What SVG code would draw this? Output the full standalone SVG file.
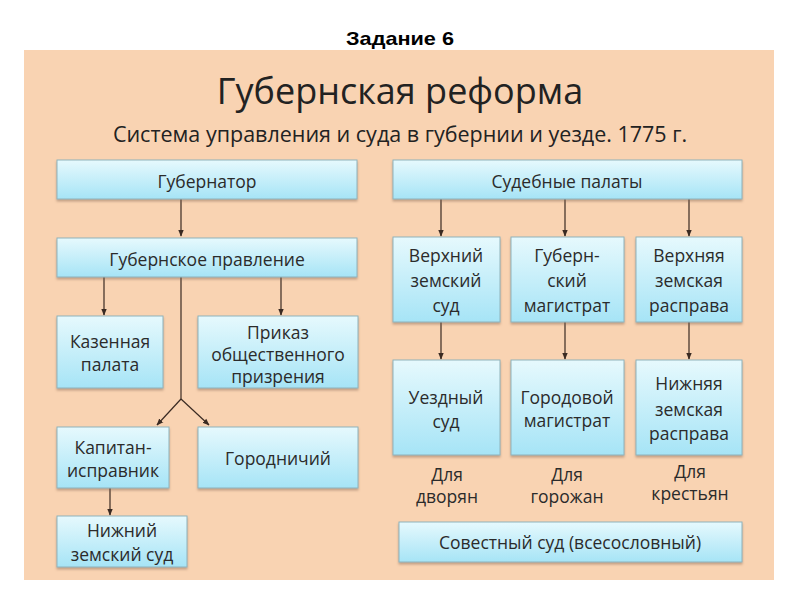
<svg xmlns="http://www.w3.org/2000/svg" width="800" height="600" viewBox="0 0 800 600">
<defs>
<linearGradient id="g" x1="0" y1="0" x2="0" y2="1">
<stop offset="0" stop-color="#e6f9fd"/>
<stop offset="1" stop-color="#a6e4f6"/>
</linearGradient>
<marker id="a" viewBox="0 0 10 10" refX="9" refY="5" markerWidth="7" markerHeight="7" orient="auto" markerUnits="userSpaceOnUse">
<path d="M0,1 L10,5 L0,9 Z" fill="#3a2a22"/>
</marker>
<filter id="s" x="-5%" y="-5%" width="110%" height="120%">
<feDropShadow dx="0" dy="2" stdDeviation="1" flood-color="#806050" flood-opacity="0.45"/>
</filter>
</defs>
<style>
.b{fill:url(#g);stroke:#8fb3bb;stroke-width:1;filter:url(#s)}
.t{font-family:"Open Sans","Noto Sans","DejaVu Sans",sans-serif;font-size:17.5px;fill:#2b2b2b;text-anchor:middle}
.c{stroke:#3a2a22;stroke-width:1.2;fill:none}
.c2{stroke:#3a2a22;stroke-width:1.2;fill:none;marker-end:url(#a)}
</style>
<rect width="800" height="600" fill="#fff"/>
<text x="400" y="45" font-family="'Liberation Sans',Arial,sans-serif" font-weight="bold" font-size="19" text-anchor="middle" fill="#000" textLength="108" lengthAdjust="spacingAndGlyphs">Задание 6</text>
<rect x="24" y="50" width="750" height="530" fill="#f9d3b2"/>
<text x="400" y="104" font-family="'Open Sans','Noto Sans',sans-serif" font-size="36" text-anchor="middle" fill="#222">Губернская реформа</text>
<text x="400" y="142" font-family="'Open Sans','Noto Sans',sans-serif" font-size="21.5" text-anchor="middle" fill="#222">Система управления и суда в губернии и уезде. 1775 г.</text>

<g id="connectors">
<line class="c2" x1="181" y1="199" x2="181" y2="236"/>
<line class="c2" x1="104" y1="277" x2="104" y2="315"/>
<line class="c2" x1="281" y1="277" x2="281" y2="315"/>
<polyline class="c" points="181,277 181,399"/>
<line class="c2" x1="181" y1="399" x2="157" y2="425"/>
<line class="c2" x1="181" y1="399" x2="209" y2="425"/>
<line class="c2" x1="110" y1="488" x2="110" y2="515"/>
<line class="c2" x1="441" y1="199" x2="441" y2="236"/>
<line class="c2" x1="565" y1="199" x2="565" y2="236"/>
<line class="c2" x1="689" y1="199" x2="689" y2="236"/>
<line class="c2" x1="441" y1="322" x2="441" y2="359"/>
<line class="c2" x1="565" y1="322" x2="565" y2="359"/>
<line class="c2" x1="689" y1="322" x2="689" y2="359"/>
</g>

<g id="gubernator"><rect class="b" x="57" y="160" width="300" height="39"/><text class="t" x="207" y="188">Губернатор</text></g>
<g id="gub-pravlenie"><rect class="b" x="57" y="238" width="300" height="39"/><text class="t" x="207" y="266">Губернское правление</text></g>
<g id="kazennaya"><rect class="b" x="57" y="316" width="106" height="72"/><text class="t" x="110" y="348">Казенная</text><text class="t" x="110" y="371">палата</text></g>
<g id="prikaz"><rect class="b" x="198" y="316" width="160" height="72"/><text class="t" x="278" y="339">Приказ</text><text class="t" x="278" y="361">общественного</text><text class="t" x="278" y="383">призрения</text></g>
<g id="kapitan"><rect class="b" x="57" y="427" width="112" height="61"/><text class="t" x="113" y="454">Капитан-</text><text class="t" x="113" y="477">исправник</text></g>
<g id="gorodnichiy"><rect class="b" x="198" y="427" width="160" height="61"/><text class="t" x="278" y="465">Городничий</text></g>
<g id="nizhniy-zemskiy"><rect class="b" x="57" y="516" width="130" height="51"/><text class="t" x="122" y="537">Нижний</text><text class="t" x="122" y="561">земский суд</text></g>

<g id="sudebnye"><rect class="b" x="393" y="160" width="349" height="39"/><text class="t" x="567" y="188">Судебные палаты</text></g>
<g id="verkhniy-zemskiy"><rect class="b" x="393" y="237" width="107" height="85"/><text class="t" x="446" y="262">Верхний</text><text class="t" x="446" y="287">земский</text><text class="t" x="446" y="312">суд</text></g>
<g id="gub-magistrat"><rect class="b" x="511" y="237" width="113" height="85"/><text class="t" x="567" y="262">Губерн-</text><text class="t" x="567" y="287">ский</text><text class="t" x="567" y="312">магистрат</text></g>
<g id="verkhnyaya-rasprava"><rect class="b" x="636" y="237" width="106" height="85"/><text class="t" x="689" y="262">Верхняя</text><text class="t" x="689" y="287">земская</text><text class="t" x="689" y="312">расправа</text></g>
<g id="uezdny"><rect class="b" x="393" y="360" width="107" height="95"/><text class="t" x="446" y="404">Уездный</text><text class="t" x="446" y="428">суд</text></g>
<g id="gorodovoy"><rect class="b" x="511" y="360" width="113" height="95"/><text class="t" x="567" y="404">Городовой</text><text class="t" x="567" y="427">магистрат</text></g>
<g id="nizhnyaya-rasprava"><rect class="b" x="636" y="360" width="106" height="95"/><text class="t" x="689" y="390">Нижняя</text><text class="t" x="689" y="416">земская</text><text class="t" x="689" y="440">расправа</text></g>

<g id="labels">
<text class="t" x="447" y="481">Для</text><text class="t" x="447" y="503">дворян</text>
<text class="t" x="567" y="481">Для</text><text class="t" x="567" y="503">горожан</text>
<text class="t" x="690" y="478">Для</text><text class="t" x="690" y="500">крестьян</text>
</g>
<g id="sovestny"><rect class="b" x="399" y="522" width="343" height="40"/><text class="t" x="570" y="549">Совестный суд (всесословный)</text></g>
</svg>
